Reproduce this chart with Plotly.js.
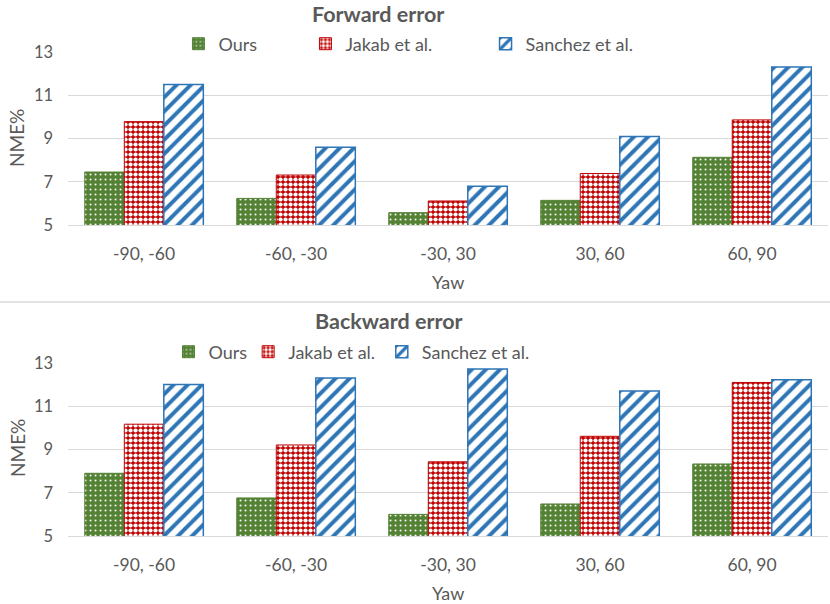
<!DOCTYPE html>
<html>
<head>
<meta charset="utf-8">
<script src="https://cdn.plot.ly/plotly-3.0.1.min.js"></script>
<style>
  body { margin: 0; background: #fff; }
  #chart { width: 830px; height: 604px; }
</style>
</head>
<body>
<div id="chart"></div>
<script>
// categories (yaw ranges)
var yaw = ['-90, -60', '-60, -30', '-30, 30', '30, 60', '60, 90'];

// forward error (NME%)
var fwdOurs    = [7.45, 6.23, 5.57, 6.14, 8.13];
var fwdJakab   = [9.78, 7.31, 6.11, 7.38, 9.86];
var fwdSanchez = [11.5, 8.6, 6.79, 9.09, 12.31];

// backward error (NME%)
var bwdOurs    = [7.9, 6.76, 6.0, 6.48, 8.33];
var bwdJakab   = [10.17, 9.21, 8.43, 9.61, 12.1];
var bwdSanchez = [12.0, 12.31, 12.72, 11.71, 12.22];

var yTicks = [5, 7, 9, 11, 13];

var GREEN = '#548235', RED = '#C00000', BLUE = '#2E75B6', GREY = '#595959';
var FONT = 'Lato, "Open Sans", sans-serif';

function styleOurs() {
  return { color: GREEN, line: { color: GREEN, width: 1 },
    pattern: { shape: '.', bgcolor: GREEN, fgcolor: '#ffffff', size: 5, solidity: 0.12, fillmode: 'replace' } };
}
function styleJakab() {
  return { color: RED, line: { color: RED, width: 1 },
    pattern: { shape: '.', bgcolor: RED, fgcolor: '#ffffff', size: 5, solidity: 0.55, fillmode: 'replace' } };
}
function styleSanchez() {
  return { color: BLUE, line: { color: BLUE, width: 1.5 },
    pattern: { shape: '/', bgcolor: '#ffffff', fgcolor: BLUE, size: 10, solidity: 0.4, fillmode: 'replace' } };
}

function barre(nom, vals, style, xa, ya, leg) {
  return { type: 'bar', name: nom, x: yaw, y: vals, xaxis: xa, yaxis: ya,
           marker: style, legend: leg, showlegend: true, hoverinfo: 'x+y+name' };
}

var data = [
  barre('Ours', fwdOurs, styleOurs(), 'x', 'y', 'legend'),
  barre('Jakab et al.', fwdJakab, styleJakab(), 'x', 'y', 'legend2'),
  barre('Sanchez et al.', fwdSanchez, styleSanchez(), 'x', 'y', 'legend3'),
  barre('Ours', bwdOurs, styleOurs(), 'x2', 'y2', 'legend4'),
  barre('Jakab et al.', bwdJakab, styleJakab(), 'x2', 'y2', 'legend5'),
  barre('Sanchez et al.', bwdSanchez, styleSanchez(), 'x2', 'y2', 'legend6')
];

function axeY(dom) {
  return { domain: dom, range: [5, 13], tickvals: yTicks, showgrid: true, gridcolor: '#D9D9D9',
           gridwidth: 1, zeroline: false, showline: false, ticks: '', ticklabelstandoff: 14,
           tickfont: { size: 16.5, color: GREY, family: FONT }, fixedrange: true };
}
function axeX(ancre) {
  return { type: 'category', domain: [0.082, 0.9976], anchor: ancre, showline: true, linecolor: '#D9D9D9',
           ticks: '', ticklabelstandoff: 13, tickfont: { size: 17.5, color: GREY, family: FONT }, fixedrange: true };
}
function legende(x, y) {
  return { orientation: 'h', x: x, y: y, xanchor: 'left', yanchor: 'middle', itemwidth: 30,
           bgcolor: 'rgba(0,0,0,0)', font: { size: 18, color: GREY, family: FONT } };
}

function texte(t, px, py, taille, angle) {
  return { text: t, x: px / 830, y: 1 - py / 604, xref: 'paper', yref: 'paper',
           xanchor: 'center', yanchor: 'middle', textangle: angle || 0,
           showarrow: false, font: { size: taille, color: GREY, family: FONT } };
}

var layout = {
  width: 830, height: 604,
  margin: { l: 0, r: 0, t: 0, b: 0 },
  paper_bgcolor: '#ffffff', plot_bgcolor: '#ffffff',
  showlegend: true,
  barmode: 'group', bargap: 0.22, bargroupgap: 0,
  font: { family: FONT, color: GREY },
  xaxis: axeX('y'),
  yaxis: axeY([0.6275, 0.9139]),
  xaxis2: axeX('y2'),
  yaxis2: axeY([0.1126, 0.399]),
  legend:  legende(0.215, 1 - 44 / 604),
  legend2: legende(0.368, 1 - 44 / 604),
  legend3: legende(0.585, 1 - 44 / 604),
  legend4: legende(0.203, 1 - 352 / 604),
  legend5: legende(0.299, 1 - 352 / 604),
  legend6: legende(0.460, 1 - 352 / 604),
  annotations: [
    texte('<b>Forward error</b>', 378, 14, 21.5),
    texte('<b>Backward error</b>', 389, 321, 21.5),
    texte('Yaw', 448, 282, 18),
    texte('Yaw', 448, 593, 18),
    texte('NME%', 17, 138, 19, -90),
    texte('NME%', 17, 448, 19, -90)
  ],
  shapes: [
    // trait de séparation entre les deux graphiques
    { type: 'line', xref: 'paper', yref: 'paper', x0: 0, x1: 1, y0: 1 - 302 / 604, y1: 1 - 302 / 604,
      line: { color: '#D9D9D9', width: 1.5 } }
  ]
};

Plotly.newPlot('chart', data, layout, { displayModeBar: false, staticPlot: true });
</script>
</body>
</html>
